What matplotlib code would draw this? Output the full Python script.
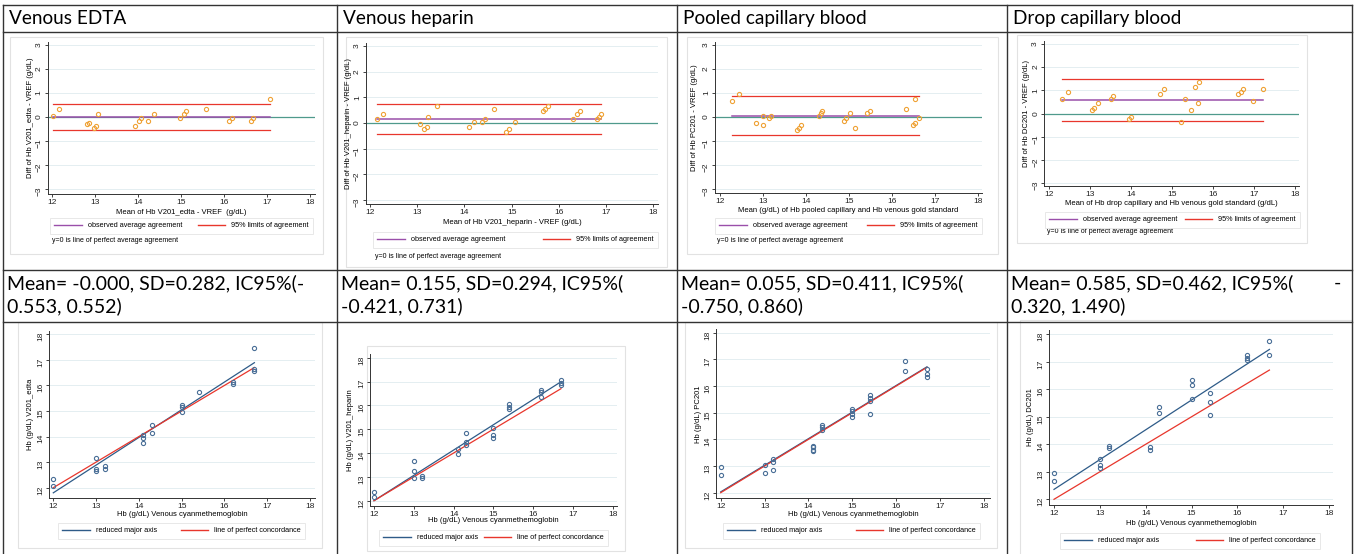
import matplotlib
matplotlib.use("Agg")
import matplotlib.pyplot as plt
from matplotlib.lines import Line2D
from matplotlib.patches import Rectangle

# table texts
headers = ["Venous EDTA", "Venous heparin", "Pooled capillary blood", "Drop capillary blood"]
stats_line1 = ["Mean= -0.000, SD=0.282, IC95%(-", "Mean= 0.155, SD=0.294, IC95%(",
               "Mean= 0.055, SD=0.411, IC95%(", "Mean= 0.585, SD=0.462, IC95%("]
stats_line2 = ["0.553, 0.552)", "-0.421, 0.731)", "-0.750, 0.860)", "0.320, 1.490)"]

# Bland-Altman summary lines
ba_mean = [-0.000, 0.155, 0.055, 0.585]
ba_lower = [-0.553, -0.421, -0.750, -0.320]
ba_upper = [0.552, 0.731, 0.860, 1.490]

ba_xlabels = ["Mean of Hb V201_edta - VREF  (g/dL)", "Mean of Hb V201_heparin - VREF (g/dL)",
              "Mean (g/dL) of Hb pooled capillary and Hb venous gold standard",
              "Mean of Hb drop capillary and Hb venous gold standard (g/dL)"]
ba_ylabels = ["Diff of Hb V201_edta - VREF (g/dL)", "Diff of Hb V201_heparin - VREF (g/dL)",
              "Diff of Hb PC201 - VREF (g/dL)", "Diff of Hb DC201 - VREF (g/dL)"]

# Bland-Altman points (mean, difference)
ba_x_edta = [12.02, 12.16, 12.81, 12.86, 12.97, 13.02, 13.06, 13.92, 14.01, 14.07, 14.22,
             14.37, 14.97, 15.07, 15.12, 15.57, 16.12, 16.18, 16.62, 16.68, 17.07]
ba_y_edta = [0.05, 0.35, -0.3, -0.25, -0.45, -0.35, 0.15, -0.35, -0.15, -0.05, -0.15,
             0.15, -0.05, 0.15, 0.25, 0.35, -0.15, -0.05, -0.15, -0.05, 0.75]
ba_x_hep = [12.15, 12.28, 13.05, 13.14, 13.2, 13.22, 13.42, 14.1, 14.2, 14.38, 14.44, 14.63,
            14.87, 14.94, 15.07, 15.66, 15.71, 15.76, 16.3, 16.39, 16.44, 16.8, 16.85, 16.9]
ba_y_hep = [0.15, 0.35, -0.05, -0.25, -0.15, 0.25, 0.65, -0.15, 0.05, 0.05, 0.15, 0.55,
            -0.35, -0.25, 0.05, 0.45, 0.55, 0.65, 0.15, 0.35, 0.45, 0.15, 0.25, 0.35]
ba_x_pc = [12.29, 12.44, 12.84, 12.99, 12.99, 13.13, 13.18, 13.78, 13.83, 13.89, 14.29, 14.34,
           14.38, 14.88, 14.93, 15.03, 15.13, 15.42, 15.48, 16.33, 16.48, 16.54, 16.54, 16.63]
ba_y_pc = [0.65, 0.95, -0.25, -0.35, 0.05, -0.05, 0.05, -0.55, -0.45, -0.35, 0.05, 0.15,
           0.25, -0.15, -0.05, 0.15, -0.45, 0.15, 0.25, 0.35, -0.35, -0.25, 0.75, -0.05]
ba_x_dc = [12.30, 12.46, 13.05, 13.09, 13.20, 13.51, 13.56, 13.95, 14.00, 14.71, 14.81,
           15.21, 15.31, 15.46, 15.56, 15.62, 15.66, 16.62, 16.67, 16.72, 16.97, 17.21]
ba_y_dc = [0.65, 0.95, 0.15, 0.25, 0.45, 0.65, 0.75, -0.25, -0.15, 0.85, 1.05,
           -0.35, 0.65, 0.15, 1.15, 0.45, 1.35, 0.85, 0.95, 1.05, 0.55, 1.05]

# concordance scatter (reference vs device)
sc_ylabels = ["Hb (g/dL) V201_edta", "Hb (g/dL) V201_heparin", "Hb (g/dL) PC201", "Hb (g/dL) DC201"]
sc_x_edta = [12, 12, 13, 13, 13, 13.2, 13.2, 14.1, 14.1, 14.1, 14.3, 14.3, 15, 15, 15, 15.4,
             16.2, 16.2, 16.7, 16.7, 16.7]
sc_y_edta = [12.35, 12.05, 13.15, 12.75, 12.65, 12.85, 12.75, 14.05, 13.95, 13.75, 14.45, 14.15,
             15.25, 15.15, 14.95, 15.75, 16.15, 16.05, 17.45, 16.65, 16.55]
sc_x_hep = [12, 12, 13, 13, 13, 13.2, 13.2, 14.1, 14.1, 14.3, 14.3, 14.3, 15, 15, 15, 15.4,
            15.4, 15.4, 16.2, 16.2, 16.2, 16.7, 16.7, 16.7]
sc_y_hep = [12.35, 12.15, 13.65, 13.25, 12.95, 13.05, 12.95, 14.15, 13.95, 14.85, 14.45, 14.35,
            15.05, 14.75, 14.65, 16.05, 15.95, 15.85, 16.65, 16.55, 16.35, 17.05, 16.95, 16.85]
sc_x_pc = [12, 12, 13, 13, 13.2, 13.2, 13.2, 14.1, 14.1, 14.1, 14.1, 14.3, 14.3, 14.3, 15, 15,
           15, 15, 15.4, 15.4, 15.4, 15.4, 16.2, 16.2, 16.7, 16.7, 16.7]
sc_y_pc = [12.95, 12.65, 13.05, 12.75, 13.25, 13.15, 12.85, 13.75, 13.7, 13.6, 13.55, 14.55,
           14.45, 14.35, 15.15, 15.05, 14.95, 14.85, 15.65, 15.55, 15.45, 14.95, 16.95, 16.55,
           16.65, 16.45, 16.35]
sc_x_dc = [12, 12, 13, 13, 13, 13.2, 13.2, 14.1, 14.1, 14.3, 14.3, 15, 15, 15, 15.4, 15.4,
           15.4, 16.2, 16.2, 16.2, 16.7, 16.7]
sc_y_dc = [12.95, 12.65, 13.45, 13.25, 13.15, 13.95, 13.85, 13.9, 13.8, 15.35, 15.15, 16.35,
           16.15, 15.65, 15.85, 15.55, 15.05, 17.25, 17.15, 17.05, 17.75, 17.25]
# reduced major axis: fitted y at the lowest and highest reference value
rma_y_start = [11.80, 12.0, 12.03, 12.36]
rma_y_end = [16.89, 16.99, 16.72, 17.45]

ba_x = [ba_x_edta, ba_x_hep, ba_x_pc, ba_x_dc]
ba_y = [ba_y_edta, ba_y_hep, ba_y_pc, ba_y_dc]
sc_x = [sc_x_edta, sc_x_hep, sc_x_pc, sc_x_dc]
sc_y = [sc_y_edta, sc_y_hep, sc_y_pc, sc_y_dc]

W, H = 1356, 554
ORANGE = "#EFA235"
PURPLE = "#9A4FAA"
RED = "#E8362C"
TEAL = "#4F9A8C"
BLUE_M = "#4A6F97"
BLUE_L = "#2E5B88"
GRID = "#E4EEF1"
BORDER = "#E2E2E2"

# pixel layout: axes box (l, t, r, b), x title centre, y title x, legend box, note y, graph box
ba_layout = [
    dict(ax=(47.7, 41.7, 315, 194.3), xl=(181.7, 212.7), yl=30, leg=(50, 218, 313, 235), note=241, box=(10, 37, 323, 254)),
    dict(ax=(366, 42.7, 658.3, 204), xl=(510, 222.7), yl=349, leg=(373, 232, 658, 247), note=257, box=(346, 37, 667, 267)),
    dict(ax=(715, 41.7, 981.7, 193.3), xl=(846.7, 210.7), yl=695, leg=(715, 218, 982, 233), note=240.7, box=(687, 37, 998, 254)),
    dict(ax=(1044.3, 41, 1299.3, 186), xl=(1173.3, 203.3), yl=1026.7, leg=(1045, 212, 1300, 225), note=231.7, box=(1017, 35, 1307, 243)),
]
ba_ticks = [((12, 52.3), (18, 310), (3, 45), (-3, 189.3)),
            ((12, 370), (18, 653.3), (3, 46), (-3, 200)),
            ((12, 720), (18, 978.3), (3, 45), (-3, 189)),
            ((12, 1049.3), (18, 1295), (3, 44.3), (-3, 182.7))]
sc_layout = [
    dict(ax=(49.3, 331, 315, 497.7), xl=(181.7, 514), yl=31, leg=(58, 523, 305, 537), box=(18, 322, 322, 548)),
    dict(ax=(370, 354.3, 616.7, 505.7), xl=(493.3, 520.7), yl=350, leg=(379, 530, 608, 543), box=(367, 346, 625, 551)),
    dict(ax=(716, 329.3, 990, 498.3), xl=(851.7, 514), yl=698.3, leg=(723, 523, 980, 538), box=(685, 322, 997, 548)),
    dict(ax=(1049.3, 330, 1333.3, 505), xl=(1190, 523.3), yl=1031, leg=(1060, 533, 1320, 547), box=(1020, 320, 1352, 555)),
]
sc_ticks = [((12, 53.3), (18, 310), (18, 334.3), (12, 487.7)),
            ((12, 374), (18, 612.7), (18, 357.7), (12, 500.7)),
            ((12, 720.7), (18, 984), (18, 332.7), (12, 492.7)),
            ((12, 1054), (18, 1329), (18, 334.3), (12, 499.3))]

plt.rcParams["font.family"] = ["Liberation Sans", "DejaVu Sans"]
fig = plt.figure(figsize=(W / 100, H / 100), dpi=100)

# background layer in pixel coordinates for the table
bg = fig.add_axes([0, 0, 1, 1])
bg.set_xlim(0, W)
bg.set_ylim(H, 0)
bg.axis("off")

col_x = [3, 337, 677, 1007, 1352]
row_y = [5, 32, 270, 322]
for x in col_x:
    bg.plot([x, x], [row_y[0], H], color="#333333", lw=1.0)
for y in row_y:
    bg.plot([col_x[0], col_x[-1]], [y, y], color="#333333", lw=1.0)

TFONT = ["Lato", "DejaVu Sans"]
for i in range(4):
    bg.text(col_x[i] + 6, 18.5, headers[i], fontsize=13.7, family=TFONT, va="center", ha="left")
    bg.text(col_x[i] + 4, 283, stats_line1[i], fontsize=14, family=TFONT, va="center", ha="left")
    bg.text(col_x[i] + 4, 306, stats_line2[i], fontsize=14, family=TFONT, va="center", ha="left")
bg.text(1341, 283, "-", fontsize=14, family=TFONT, va="center", ha="right")

for lay in ba_layout + sc_layout:
    l, t, r, b = lay["box"]
    bg.add_patch(Rectangle((l, t), r - l, b - t, fill=False, ec=BORDER, lw=0.8))


def make_axes(lay, ticks):
    l, t, r, b = lay["ax"]
    ax = fig.add_axes([l / W, 1 - b / H, (r - l) / W, (b - t) / H])
    (x0, px0), (x1, px1), (y0, py0), (y1, py1) = ticks
    sx = (px1 - px0) / (x1 - x0)
    sy = (py1 - py0) / (y1 - y0)
    ax.set_xlim(x0 + (l - px0) / sx, x0 + (r - px0) / sx)
    ax.set_ylim(y0 + (b - py0) / sy, y0 + (t - py0) / sy)
    ax.set_xticks(range(12, 19))
    for s in ["top", "right"]:
        ax.spines[s].set_visible(False)
    for s in ["left", "bottom"]:
        ax.spines[s].set_color("#333333")
        ax.spines[s].set_linewidth(0.7)
    ax.tick_params(direction="out", length=2.5, width=0.6, labelsize=6, pad=1.2, colors="#222222")
    ax.tick_params(axis="y", labelrotation=90)
    ax.grid(axis="y", color=GRID, lw=0.7)
    ax.set_axisbelow(True)
    ax.xaxis.label.set_va("center")
    ax.yaxis.label.set_va("center")
    ax.xaxis.set_label_coords((lay["xl"][0] - l) / (r - l), (b - lay["xl"][1]) / (b - t))
    ax.yaxis.set_label_coords((lay["yl"] - l) / (r - l), 0.5)
    return ax


def add_legend(ax, lay, handles, labels):
    l, t, r, b = lay["leg"]
    leg = ax.legend(handles, labels, loc="upper left", mode="expand", ncol=2,
                    bbox_to_anchor=(l / W, 1 - b / H, (r - l) / W, (b - t) / H),
                    bbox_transform=fig.transFigure, borderaxespad=0, fontsize=5.2,
                    frameon=True, fancybox=False, edgecolor=BORDER, handlelength=3.8,
                    handletextpad=0.8, borderpad=0.6, columnspacing=1.0)
    leg.get_frame().set_linewidth(0.7)


for i in range(4):
    lay = ba_layout[i]
    ax = make_axes(lay, ba_ticks[i])
    ax.set_yticks(range(-3, 4))
    ax.axhline(0, color=TEAL, lw=0.9, zorder=1)
    xs = [min(ba_x[i]), max(ba_x[i])]
    ax.plot(xs, [ba_upper[i]] * 2, color=RED, lw=0.9)
    ax.plot(xs, [ba_lower[i]] * 2, color=RED, lw=0.9)
    ax.plot(xs, [ba_mean[i]] * 2, color=PURPLE, lw=1.1)
    ax.plot(ba_x[i], ba_y[i], "o", ms=3.0, mfc="none", mec=ORANGE, mew=0.8)
    ax.set_xlabel(ba_xlabels[i], fontsize=5.5)
    ax.set_ylabel(ba_ylabels[i], fontsize=5.5)
    add_legend(ax, lay, [Line2D([], [], color=PURPLE, lw=1.0), Line2D([], [], color=RED, lw=1.0)],
               ["observed average agreement", "95% limits of agreement"])
    bg.text(lay["leg"][0] + 2, lay["note"], "y=0 is line of perfect average agreement",
            fontsize=5, va="center", ha="left")

for i in range(4):
    lay = sc_layout[i]
    ax = make_axes(lay, sc_ticks[i])
    ax.set_yticks(range(12, 19))
    xs = [min(sc_x[i]), max(sc_x[i])]
    ax.plot(xs, [rma_y_start[i], rma_y_end[i]], color=BLUE_L, lw=0.9)
    ax.plot(xs, xs, color=RED, lw=0.9)
    ax.plot(sc_x[i], sc_y[i], "o", ms=3.0, mfc="none", mec=BLUE_M, mew=0.8)
    ax.set_xlabel("Hb (g/dL) Venous cyanmethemoglobin", fontsize=5.5)
    ax.set_ylabel(sc_ylabels[i], fontsize=5.5)
    add_legend(ax, lay, [Line2D([], [], color=BLUE_L, lw=1.0), Line2D([], [], color=RED, lw=1.0)],
               ["reduced major axis", "line of perfect concordance"])

fig.savefig("out.png", dpi=100)
